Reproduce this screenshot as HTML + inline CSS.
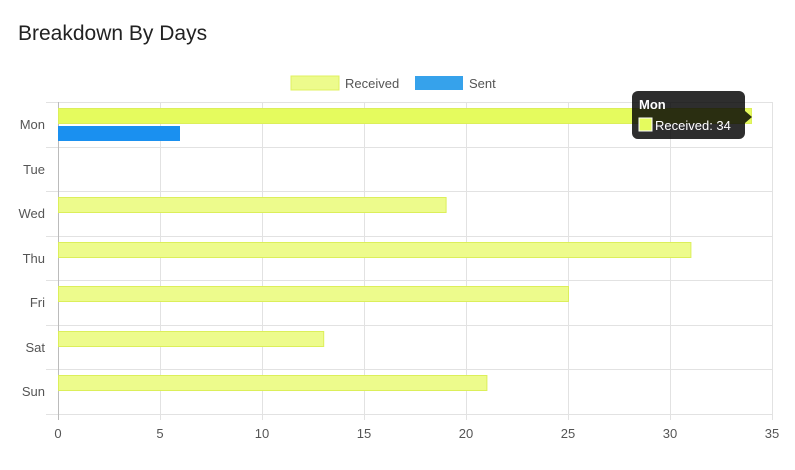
<!DOCTYPE html>
<html><head><meta charset="utf-8"><style>
body{margin:0;background:#fff;font-family:"Liberation Sans",sans-serif}
</style></head><body>
<svg width="795" height="465" xmlns="http://www.w3.org/2000/svg" font-family="Liberation Sans, sans-serif">
<text x="18" y="40" font-size="21" fill="#222">Breakdown By Days</text>
<rect x="291" y="76" width="48" height="14" fill="#edfb8c" stroke="#e0f060"/>
<text x="345" y="88" font-size="13" fill="#555">Received</text>
<rect x="415" y="76" width="48" height="14" fill="#36a2eb"/>
<text x="469" y="88" font-size="13" fill="#555">Sent</text>
<g stroke="#e2e2e2" stroke-width="1">
<line x1="46" y1="102.5" x2="772" y2="102.5"/>
<line x1="46" y1="147.5" x2="772" y2="147.5"/>
<line x1="46" y1="191.5" x2="772" y2="191.5"/>
<line x1="46" y1="236.5" x2="772" y2="236.5"/>
<line x1="46" y1="280.5" x2="772" y2="280.5"/>
<line x1="46" y1="325.5" x2="772" y2="325.5"/>
<line x1="46" y1="369.5" x2="772" y2="369.5"/>
<line x1="46" y1="414.5" x2="772" y2="414.5"/>
<line x1="160.5" y1="102" x2="160.5" y2="420"/>
<line x1="262.5" y1="102" x2="262.5" y2="420"/>
<line x1="364.5" y1="102" x2="364.5" y2="420"/>
<line x1="466.5" y1="102" x2="466.5" y2="420"/>
<line x1="568.5" y1="102" x2="568.5" y2="420"/>
<line x1="670.5" y1="102" x2="670.5" y2="420"/>
<line x1="772.5" y1="102" x2="772.5" y2="420"/>
</g>
<line x1="58.5" y1="102" x2="58.5" y2="420" stroke="#bbb"/>
<g fill="#edfb8c" stroke="#dcef5a" stroke-width="1">
<rect x="58.5" y="108.5" width="693" height="15" fill="#e5fb5e"/>
<rect x="58.5" y="197.5" width="387.6" height="15"/>
<rect x="58.5" y="242.5" width="632.4" height="15"/>
<rect x="58.5" y="286.5" width="510" height="15"/>
<rect x="58.5" y="331.5" width="265.2" height="15"/>
<rect x="58.5" y="375.5" width="428.4" height="15"/>
</g>
<rect x="58" y="126" width="122" height="15" fill="#1a90f0"/>
<g font-size="13" fill="#555" text-anchor="end">
<text x="45" y="129">Mon</text><text x="45" y="174">Tue</text><text x="45" y="218">Wed</text>
<text x="45" y="263">Thu</text><text x="45" y="307">Fri</text><text x="45" y="352">Sat</text><text x="45" y="396">Sun</text>
</g>
<g font-size="13" fill="#555" text-anchor="middle">
<text x="58" y="438">0</text><text x="160" y="438">5</text><text x="262" y="438">10</text><text x="364" y="438">15</text>
<text x="466" y="438">20</text><text x="568" y="438">25</text><text x="670" y="438">30</text><text x="772" y="438">35</text>
</g>
<rect x="632" y="91" width="113" height="48" rx="6" fill="#000" fill-opacity="0.82"/>
<polygon points="745,111 752,117 745,123" fill="#000" fill-opacity="0.82"/>
<text x="639" y="109" font-size="13" font-weight="bold" fill="#fff">Mon</text>
<rect x="639" y="118" width="13" height="13" fill="#e5fb5e" stroke="#fff"/>
<text x="655" y="130" font-size="13" fill="#fff">Received: 34</text>
</svg>
</body></html>
